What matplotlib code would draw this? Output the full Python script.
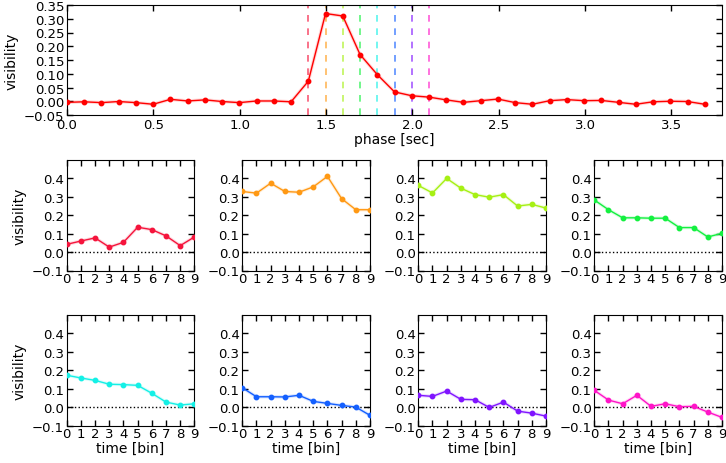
import numpy as np
import matplotlib
matplotlib.use("Agg")
import matplotlib.pyplot as plt

# ---- data ----
dt = 0.0998
phase_vis = [-0.004, -0.002, -0.005, -0.001, -0.005, -0.011, 0.007, 0.001, 0.005, -0.001,
             -0.005, 0.001, 0.001, -0.002, 0.073, 0.319, 0.310, 0.170, 0.097, 0.034,
             0.020, 0.015, 0.005, -0.004, 0.002, 0.008, -0.005, -0.011, 0.002, 0.006,
             0.002, 0.003, -0.004, -0.011, -0.002, 0.000, -0.001, -0.011]
phase_x = np.arange(len(phase_vis)) * dt
sel_idx = [14, 15, 16, 17, 18, 19, 20, 21]

time_bins = list(range(10))
bin_vis = [
    [0.042, 0.060, 0.077, 0.027, 0.053, 0.135, 0.122, 0.088, 0.035, 0.082],
    [0.329, 0.320, 0.374, 0.329, 0.325, 0.354, 0.411, 0.290, 0.230, 0.230],
    [0.362, 0.321, 0.400, 0.347, 0.312, 0.298, 0.312, 0.250, 0.259, 0.239],
    [0.283, 0.230, 0.186, 0.186, 0.184, 0.184, 0.133, 0.133, 0.082, 0.102],
    [0.173, 0.158, 0.145, 0.124, 0.122, 0.118, 0.075, 0.027, 0.011, 0.018],
    [0.105, 0.056, 0.056, 0.055, 0.064, 0.031, 0.020, 0.009, 0.000, -0.045],
    [0.064, 0.058, 0.087, 0.042, 0.040, -0.002, 0.027, -0.022, -0.033, -0.049],
    [0.091, 0.038, 0.018, 0.064, 0.004, 0.018, 0.002, 0.004, -0.027, -0.056],
]
colors = ['#f5143c', '#ff9914', '#a6f014', '#14f040', '#14f0e6', '#1460ff', '#8014ff', '#ff14c8']

plt.rcParams['font.size'] = 10
W, H = 726, 464
fig = plt.figure(figsize=(W / 100, H / 100), dpi=100)

def style(ax):
    ax.tick_params(direction='in', top=True, right=True, length=4, width=1, labelsize=9.5, pad=2)

# top panel
ax = fig.add_axes([67 / W, 1 - 116 / H, (722 - 67) / W, 110 / H])
ax.plot(phase_x, phase_vis, color='red', lw=2.5, alpha=0.15, zorder=2)
ax.plot(phase_x, phase_vis, color='red', lw=1, marker='o', ms=3.2, zorder=3)
for i, c in zip(sel_idx, colors):
    ax.axvline(phase_x[i], color=c, ls=(0, (4, 4)), lw=1.2, alpha=0.7, zorder=1)
ax.set_xlim(0, len(phase_vis) * dt)
ax.set_ylim(-0.05, 0.35)
xt = np.arange(0, 3.51, 0.5)
yt = np.arange(-0.05, 0.351, 0.05)
ax.set_xticks(xt)
ax.set_yticks(yt)
ax.set_xticklabels([f"{v:.1f}" for v in xt])
ax.set_yticklabels([f"{v:.2f}".replace('-', '\u2212') if abs(v) > 1e-9 else "0.00" for v in yt])
ax.set_xlabel('phase [sec]', labelpad=1)
ax.set_ylabel('visibility')
style(ax)

lefts = [66.7, 242.3, 418.3, 594.3]
tops = [161, 316]
w, h = 127.7, 110.5
for k in range(8):
    r, cidx = divmod(k, 4)
    a = fig.add_axes([lefts[cidx] / W, 1 - (tops[r] + h) / H, w / W, h / H])
    a.axhline(0, color='k', ls=':', lw=1, zorder=1)
    a.plot(time_bins, bin_vis[k], color=colors[k], lw=2.5, alpha=0.15, zorder=2)
    a.plot(time_bins, bin_vis[k], color=colors[k], lw=1, marker='o', ms=3.2, zorder=3)
    a.set_xlim(0, 9)
    a.set_ylim(-0.1, 0.5)
    a.set_xticks(time_bins)
    a.set_yticks([-0.1, 0.0, 0.1, 0.2, 0.3, 0.4])
    a.set_yticklabels(['\u22120.1', '0.0', '0.1', '0.2', '0.3', '0.4'])
    style(a)
    a.tick_params(axis='x', pad=1)
    if cidx == 0:
        a.set_ylabel('visibility')
    if r == 1:
        a.set_xlabel('time [bin]', labelpad=1)

fig.savefig('out.png', dpi=100)
